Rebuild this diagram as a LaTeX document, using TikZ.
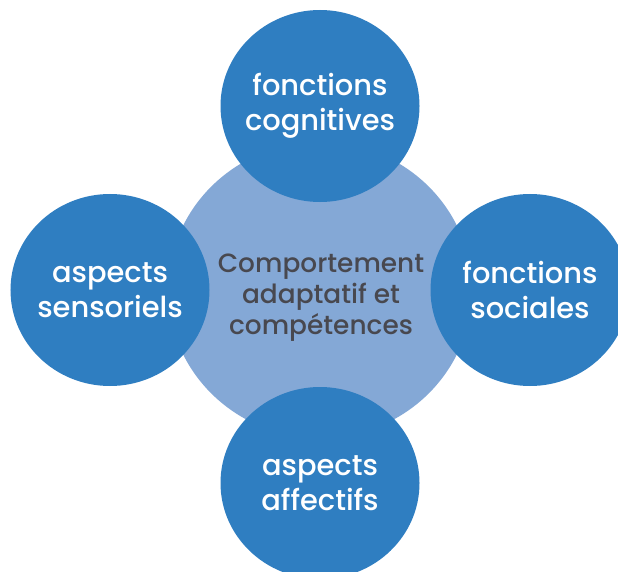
\documentclass[tikz,border=0pt]{standalone}
\usepackage{fontspec}
\setmainfont{Poppins}[UprightFont=* Medium]
\usetikzlibrary{shapes.geometric}
\definecolor{bubbleblue}{HTML}{2F7EC1}
\definecolor{coreblue}{HTML}{84A8D6}
\definecolor{coretext}{HTML}{48484F}
\tikzset{
	bubble/.style={ellipse, fill=bubbleblue, text=white, inner sep=-15bp,
		minimum width=199bp, minimum height=192bp, align=center,
		font=\fontsize{29}{35}\selectfont},
	core/.style={ellipse, fill=coreblue, inner sep=0pt,
		minimum width=304bp, minimum height=296bp},
	coretxt/.style={text=coretext, align=center, inner sep=0pt,
		font=\fontsize{26.5}{31}\selectfont}
}
\begin{document}
\begin{tikzpicture}[x=1bp,y=1bp]
		\useasboundingbox (0,0) rectangle (618,-572);
		\clip (0,0) rectangle (618,-572);
		\node[core] (core) at (320,-290) {};
		\node[coretxt] (label) at (321,-298) {Comportement\\adaptatif et\\compétences};
		\node[bubble] (cog) at (320,-106) {fonctions\\cognitives};
		\node[bubble] (sens) at (110,-290) {aspects\\sensoriels};
		\node[bubble] (soc) at (530,-290) {fonctions\\sociales};
		\node[bubble] (aff) at (320,-483) {aspects\\affectifs};
	\end{tikzpicture}
\end{document}
